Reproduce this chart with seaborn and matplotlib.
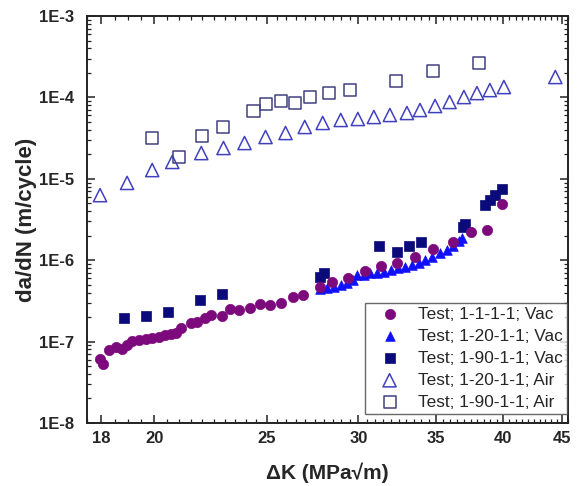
import numpy as np
import pandas as pd
import matplotlib
matplotlib.use("Agg")
import matplotlib.pyplot as plt
import seaborn as sns
from matplotlib.ticker import FixedLocator, FixedFormatter, LogLocator, NullFormatter, MultipleLocator

# ---------------- data ----------------
vac_1_1_dk = [17.96, 18.07, 18.29, 18.54, 18.77, 18.95, 19.14, 19.41, 19.68, 19.92,
              20.20, 20.44, 20.69, 20.90, 21.11, 21.53, 21.79, 22.14, 22.40, 22.86,
              23.27, 23.69, 24.21, 24.70, 25.15, 25.71, 26.33, 26.86, 27.78, 28.46,
              29.38, 30.39, 31.37, 32.39, 33.57, 34.80, 36.20, 37.53, 38.74, 39.92]
vac_1_1_dadn = [6.1e-8, 5.3e-8, 7.9e-8, 8.6e-8, 8.1e-8, 9.1e-8, 1.02e-7, 1.05e-7, 1.08e-7, 1.11e-7,
                1.14e-7, 1.21e-7, 1.24e-7, 1.28e-7, 1.47e-7, 1.69e-7, 1.74e-7, 1.95e-7, 2.12e-7, 2.05e-7,
                2.51e-7, 2.44e-7, 2.59e-7, 2.90e-7, 2.82e-7, 2.98e-7, 3.53e-7, 3.73e-7, 4.69e-7, 5.40e-7,
                6.04e-7, 7.37e-7, 8.49e-7, 9.24e-7, 1.09e-6, 1.37e-6, 1.67e-6, 2.22e-6, 2.35e-6, 4.9e-6]

vac_1_20_dk = [27.78, 28.17, 28.57, 28.97, 29.32, 29.67, 29.91, 30.33, 30.69, 31.12, 31.56, 32.00,
               32.45, 32.91, 33.37, 33.84, 34.25, 34.73, 35.29, 35.79, 36.22, 36.66, 36.87]
vac_1_20_dadn = [4.43e-7, 4.55e-7, 4.69e-7, 4.96e-7, 5.25e-7, 5.71e-7, 6.58e-7, 6.58e-7, 6.97e-7, 6.97e-7,
                 7.16e-7, 7.58e-7, 8.02e-7, 8.25e-7, 8.73e-7, 9.24e-7, 1.01e-6, 1.09e-6, 1.23e-6, 1.33e-6,
                 1.49e-6, 1.72e-6, 1.87e-6]

vac_1_90_dk = [18.84, 19.68, 20.57, 21.92, 22.86, 27.78, 28.00, 31.25, 32.39, 33.18, 33.98,
               36.94, 37.09, 38.60, 38.97, 39.36, 39.91]
vac_1_90_dadn = [1.95e-7, 2.06e-7, 2.31e-7, 3.24e-7, 3.85e-7, 6.2e-7, 6.97e-7, 1.49e-6, 1.26e-6,
                 1.49e-6, 1.67e-6, 2.56e-6, 2.79e-6, 4.77e-6, 5.49e-6, 6.32e-6, 7.5e-6]

air_1_20_dk = [17.96, 18.95, 19.92, 20.73, 21.96, 22.95, 23.93, 24.95, 25.96, 26.97, 27.95, 28.97,
               29.97, 30.94, 31.94, 33.04, 33.91, 34.94, 35.96, 37.00, 37.97, 38.96, 40.06, 44.37]
air_1_20_dadn = [6.3e-6, 8.9e-6, 1.28e-5, 1.61e-5, 2.07e-5, 2.39e-5, 2.75e-5, 3.26e-5, 3.65e-5,
                 4.33e-5, 4.85e-5, 5.28e-5, 5.43e-5, 5.74e-5, 6.08e-5, 6.43e-5, 7.0e-5, 7.84e-5,
                 8.78e-5, 1.01e-4, 1.13e-4, 1.23e-4, 1.34e-4, 1.78e-4]

air_1_90_dk = [19.92, 21.02, 22.01, 22.95, 24.36, 24.95, 25.71, 26.43, 27.24, 28.29, 29.49,
               32.33, 34.80, 38.13]
air_1_90_dadn = [3.17e-5, 1.85e-5, 3.36e-5, 4.33e-5, 6.8e-5, 8.3e-5, 9.0e-5, 8.5e-5, 1.01e-4,
                 1.13e-4, 1.23e-4, 1.59e-4, 2.11e-4, 2.65e-4]

series_labels = ["Test; 1-1-1-1; Vac", "Test; 1-20-1-1; Vac", "Test; 1-90-1-1; Vac",
                 "Test; 1-20-1-1; Air", "Test; 1-90-1-1; Air"]

x_ticks = [18, 20, 25, 30, 35, 40, 45]
x_tick_labels = ["18", "20", "25", "30", "35", "40", "45"]
y_ticks = [1e-8, 1e-7, 1e-6, 1e-5, 1e-4, 1e-3]
y_tick_labels = ["1E-8", "1E-7", "1E-6", "1E-5", "1E-4", "1E-3"]
x_label = "\u0394K (MPa\u221am)"
y_label = "da/dN (m/cycle)"

# ---------------- plot ----------------
sns.set_style("ticks")
plt.rcParams["font.family"] = ["Liberation Sans", "DejaVu Sans"]

fig = plt.figure(figsize=(5.77, 4.86), dpi=100)
ax = fig.add_axes([87 / 577, 1 - 423 / 486, (568 - 87) / 577, (423 - 16) / 486])

purple = "#7d0a7d"
blue = "#1010ff"
navy = "#0a0a7a"
open_tri = "#4040c0"
open_sq = "#404080"

sns.scatterplot(x=vac_1_1_dk, y=vac_1_1_dadn, ax=ax, marker="o", s=55, color=purple,
                edgecolor=purple, linewidth=0.5, label=series_labels[0], zorder=5)
sns.scatterplot(x=vac_1_20_dk, y=vac_1_20_dadn, ax=ax, marker="^", s=48, color=blue,
                edgecolor=blue, linewidth=0.5, label=series_labels[1], zorder=3)
sns.scatterplot(x=vac_1_90_dk, y=vac_1_90_dadn, ax=ax, marker="s", s=62, color=navy,
                edgecolor=navy, linewidth=0.5, label=series_labels[2], zorder=4)
sns.scatterplot(x=air_1_20_dk, y=air_1_20_dadn, ax=ax, marker="^", s=90, color=open_tri,
                facecolor="none", edgecolor=open_tri, linewidth=1.1, label=series_labels[3], zorder=3)
sns.scatterplot(x=air_1_90_dk, y=air_1_90_dadn, ax=ax, marker="s", s=75, color=open_sq,
                facecolor="none", edgecolor=open_sq, linewidth=1.1, label=series_labels[4], zorder=3)

ax.set_xscale("log")
ax.set_yscale("log")
ax.set_xlim(17.5, 45.5)
ax.set_ylim(1e-8, 1e-3)

ax.xaxis.set_major_locator(FixedLocator(x_ticks))
ax.xaxis.set_major_formatter(FixedFormatter(x_tick_labels))
ax.xaxis.set_minor_locator(MultipleLocator(0.5))
ax.xaxis.set_minor_formatter(NullFormatter())
ax.yaxis.set_major_locator(FixedLocator(y_ticks))
ax.yaxis.set_major_formatter(FixedFormatter(y_tick_labels))
ax.yaxis.set_minor_locator(LogLocator(base=10, subs=np.arange(2, 10)))
ax.yaxis.set_minor_formatter(NullFormatter())

ax.tick_params(which="both", direction="in", top=True, right=True, color="#222222")
ax.tick_params(which="major", length=6, width=1.1)
ax.tick_params(which="minor", length=3, width=0.9)
ax.tick_params(axis="y", which="major", pad=9)
ax.tick_params(axis="x", which="major", pad=6)
for lab in ax.get_xticklabels() + ax.get_yticklabels():
    lab.set_fontweight("bold")
    lab.set_fontsize(12)
for sp in ax.spines.values():
    sp.set_linewidth(1.4)
    sp.set_color("#222222")

ax.set_xlabel(x_label, fontsize=15, fontweight="bold", labelpad=12)
ax.set_ylabel(y_label, fontsize=16, fontweight="bold", labelpad=2)

leg = ax.legend(loc="lower right", bbox_to_anchor=(0.998, 0.022), borderaxespad=0,
                fontsize=12.4, frameon=True, fancybox=False, edgecolor="#444444",
                borderpad=0.25, labelspacing=0.4, handlelength=2.3, handletextpad=0.5)
leg.get_frame().set_linewidth(1.0)

fig.savefig("out.png", dpi=100)
